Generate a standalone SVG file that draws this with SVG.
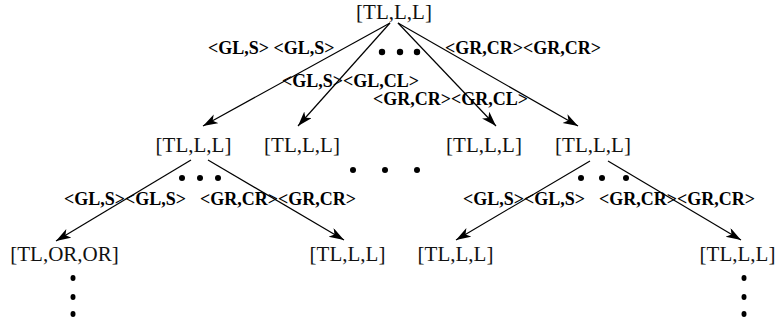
<svg xmlns="http://www.w3.org/2000/svg" width="775" height="327" viewBox="0 0 775 327">
<style>
.n{font-family:"Liberation Serif","Times New Roman",serif;font-size:21px;fill:#111;text-anchor:middle}
.l{font-family:"Liberation Serif","Times New Roman",serif;font-size:18px;font-weight:bold;fill:#000}
.e{stroke:#000;stroke-width:1.2;fill:none;marker-end:url(#ah)}
.d{fill:#000}
</style>
<defs>
<marker id="ah" markerUnits="userSpaceOnUse" markerWidth="18" markerHeight="12" refX="15" refY="5" orient="auto" viewBox="0 0 18 12">
<path d="M0,0 L15,5 L0,10 L4,5 Z" fill="#000"/>
</marker>
</defs>
<g id="connectors">
<line class="e" x1="390" y1="23" x2="203" y2="126"/>
<line class="e" x1="390" y1="23" x2="298" y2="126"/>
<line class="e" x1="398" y1="23" x2="496" y2="126"/>
<line class="e" x1="398" y1="23" x2="578" y2="126"/>
<line class="e" x1="191" y1="160" x2="56" y2="241"/>
<line class="e" x1="208" y1="160" x2="344" y2="240"/>
<line class="e" x1="590" y1="161" x2="456" y2="240"/>
<line class="e" x1="608" y1="161" x2="741" y2="240"/>
</g>
<g id="labels">
<text class="l" x="208" y="54">&lt;GL,S&gt; &lt;GL,S&gt;</text>
<text class="l" x="445" y="54">&lt;GR,CR&gt;&lt;GR,CR&gt;</text>
<text class="l" x="282" y="87">&lt;GL,S&gt;&lt;GL,CL&gt;</text>
<text class="l" x="373" y="105">&lt;GR,CR&gt;&lt;GR,CL&gt;</text>
<text class="l" x="64" y="205">&lt;GL,S&gt;&lt;GL,S&gt;</text>
<text class="l" x="200" y="205">&lt;GR,CR&gt;&lt;GR,CR&gt;</text>
<text class="l" x="463" y="205">&lt;GL,S&gt;&lt;GL,S&gt;</text>
<text class="l" x="599" y="205">&lt;GR,CR&gt;&lt;GR,CR&gt;</text>
</g>
<g id="dots">
<circle class="d" cx="382" cy="52" r="3.2"/>
<circle class="d" cx="400" cy="52" r="3.2"/>
<circle class="d" cx="417" cy="52" r="3.2"/>
<circle class="d" cx="353" cy="170" r="3"/>
<circle class="d" cx="385" cy="170" r="3"/>
<circle class="d" cx="417" cy="170" r="3"/>
<circle class="d" cx="182" cy="178" r="3"/>
<circle class="d" cx="200" cy="178" r="3"/>
<circle class="d" cx="218" cy="178" r="3"/>
<circle class="d" cx="581" cy="178" r="3"/>
<circle class="d" cx="602" cy="178" r="3"/>
<circle class="d" cx="626" cy="178" r="3"/>
<ellipse class="d" cx="73" cy="278" rx="2.5" ry="3"/>
<ellipse class="d" cx="73" cy="297" rx="2.5" ry="3"/>
<ellipse class="d" cx="73" cy="314" rx="2.5" ry="3"/>
<ellipse class="d" cx="744" cy="278" rx="2.5" ry="3"/>
<ellipse class="d" cx="744" cy="297" rx="2.5" ry="3"/>
<ellipse class="d" cx="744" cy="314" rx="2.5" ry="3"/>
</g>
<g id="root"><text class="n" x="394" y="18.5">[TL,L,L]</text></g>
<g id="n1"><text class="n" x="193.5" y="152">[TL,L,L]</text></g>
<g id="n2"><text class="n" x="302" y="152">[TL,L,L]</text></g>
<g id="n3"><text class="n" x="484" y="152">[TL,L,L]</text></g>
<g id="n4"><text class="n" x="593" y="152">[TL,L,L]</text></g>
<g id="n5"><text class="n" x="64.5" y="261">[TL,OR,OR]</text></g>
<g id="n6"><text class="n" x="347.5" y="261">[TL,L,L]</text></g>
<g id="n7"><text class="n" x="455.5" y="261">[TL,L,L]</text></g>
<g id="n8"><text class="n" x="737.5" y="261">[TL,L,L]</text></g>
</svg>
